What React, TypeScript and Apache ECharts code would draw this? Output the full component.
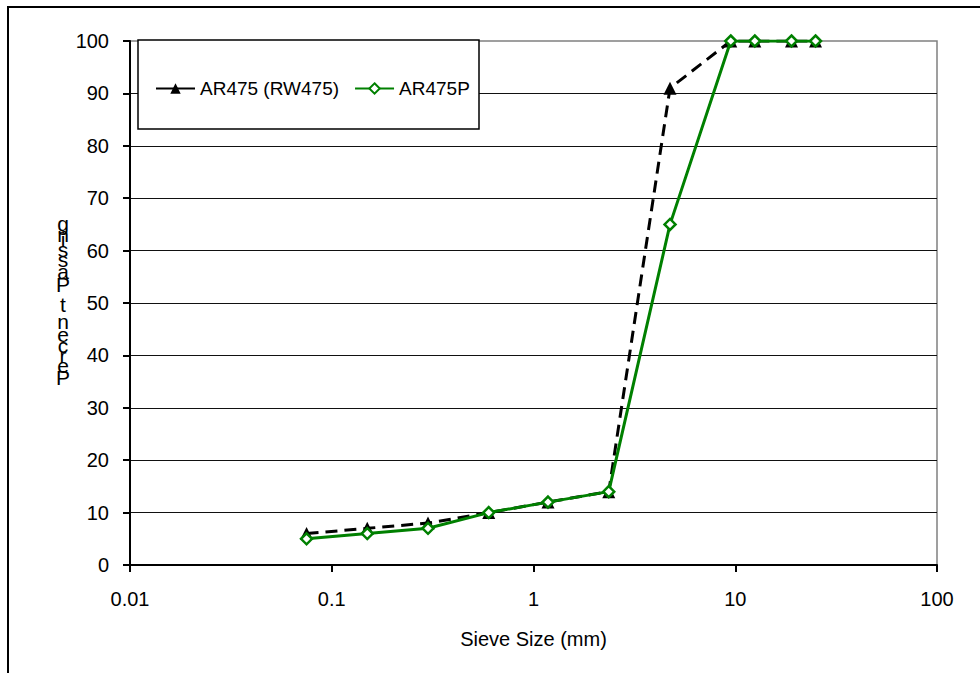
import React, { useEffect, useRef } from "react";
import * as echarts from "echarts";

const sieveSizes = [0.075, 0.15, 0.3, 0.6, 1.18, 2.36, 4.75, 9.5, 12.5, 19, 25];
const ar475Values = [6, 7, 8, 10, 12, 14, 91, 100, 100, 100, 100];
const ar475pValues = [5, 6, 7, 10, 12, 14, 65, 100, 100, 100, 100];
const xTickLabels = ["0.01", "0.1", "1", "10", "100"];
const seriesNames = ["AR475 (RW475)", "AR475P"];
const yTitle = "Percent Passing";
// upright stacked characters of the y title (bottom to top), centre y
const yTitleCenters = [377, 365, 355, 345, 334, 321, 304, 295, 284, 271, 259, 249, 239, 234, 223];

const FONT = "'Liberation Sans', Arial, sans-serif";

export default function App() {
  const ref = useRef<HTMLDivElement>(null);
  useEffect(() => {
    if (!ref.current) return;
    const chart = echarts.init(ref.current, null, { renderer: "svg" });
    const titleChars = yTitle.split("");
    const titleGraphics = titleChars
      .map((ch, i) => ({ ch, y: yTitleCenters[i] }))
      .filter((d) => d.ch !== " ")
      .map((d) => ({
        type: "text",
        x: 63,
        y: d.y,
        z: 5,
        style: {
          text: d.ch,
          font: `21px ${FONT}`,
          fill: "#000",
          align: "center",
          verticalAlign: "middle",
        },
      }));
    chart.setOption({
      animation: false,
      backgroundColor: "#fff",
      textStyle: { fontFamily: FONT },
      grid: {
        left: 130,
        right: 43,
        top: 41,
        bottom: 108,
        show: true,
        borderColor: "#808080",
        borderWidth: 1.5,
        backgroundColor: "transparent",
      },
      graphic: [
        {
          type: "rect",
          z: 1,
          shape: { x: 8, y: 7, width: 1200, height: 1200 },
          style: { fill: "none", stroke: "#000", lineWidth: 2 },
          silent: true,
        },
        {
          type: "rect",
          z: 10,
          shape: { x: 138, y: 40, width: 341, height: 89 },
          style: { fill: "#fff", stroke: "#000", lineWidth: 1.5 },
          silent: true,
        },
        ...titleGraphics,
      ],
      legend: {
        z: 11,
        left: 150,
        top: 74,
        itemWidth: 39,
        itemHeight: 13,
        itemGap: 15,
        textStyle: { fontSize: 19, color: "#000", fontFamily: FONT },
        data: [
          { name: seriesNames[0], lineStyle: { type: "solid" } },
          { name: seriesNames[1] },
        ],
      },
      xAxis: {
        type: "log",
        logBase: 10,
        min: 0.01,
        max: 100,
        name: "Sieve Size (mm)",
        nameLocation: "middle",
        nameGap: 64,
        nameTextStyle: { fontSize: 20, color: "#000", fontFamily: FONT },
        axisLine: { show: true, lineStyle: { color: "#000", width: 2 } },
        axisTick: { show: true, inside: false, length: 7, lineStyle: { color: "#000", width: 2 } },
        minorTick: { show: false },
        axisLabel: {
          fontSize: 20,
          color: "#000",
          margin: 24,
          fontFamily: FONT,
          formatter: (v: number) => {
            const idx = Math.round(Math.log10(v)) + 2;
            return xTickLabels[idx] ?? "";
          },
        },
        splitLine: { show: false },
      },
      yAxis: {
        type: "value",
        min: 0,
        max: 100,
        interval: 10,
        axisLine: { show: true, lineStyle: { color: "#000", width: 2 } },
        axisTick: { show: true, inside: false, length: 7, lineStyle: { color: "#000", width: 2 } },
        axisLabel: { fontSize: 20, color: "#000", margin: 21, fontFamily: FONT },
        splitLine: {
          show: true,
          showMaxLine: false,
          lineStyle: { color: "#111", width: 1 },
        },
      },
      series: [
        {
          name: seriesNames[0],
          type: "line",
          data: sieveSizes.map((x, i) => [x, ar475Values[i]]),
          symbol: "triangle",
          symbolSize: 13,
          color: "#000",
          itemStyle: { color: "#000" },
          lineStyle: { color: "#000", width: 3, type: [12, 7] },
          z: 3,
        },
        {
          name: seriesNames[1],
          type: "line",
          data: sieveSizes.map((x, i) => [x, ar475pValues[i]]),
          symbol: "diamond",
          symbolSize: 11,
          color: "#008000",
          itemStyle: { color: "#fff", borderColor: "#008000", borderWidth: 2.5 },
          lineStyle: { color: "#008000", width: 3 },
          z: 4,
        },
      ],
    });
    return () => chart.dispose();
  }, []);
  return (
    <div
      ref={ref}
      style={{ position: "absolute", left: 0, top: 0, width: 980, height: 673 }}
    />
  );
}
